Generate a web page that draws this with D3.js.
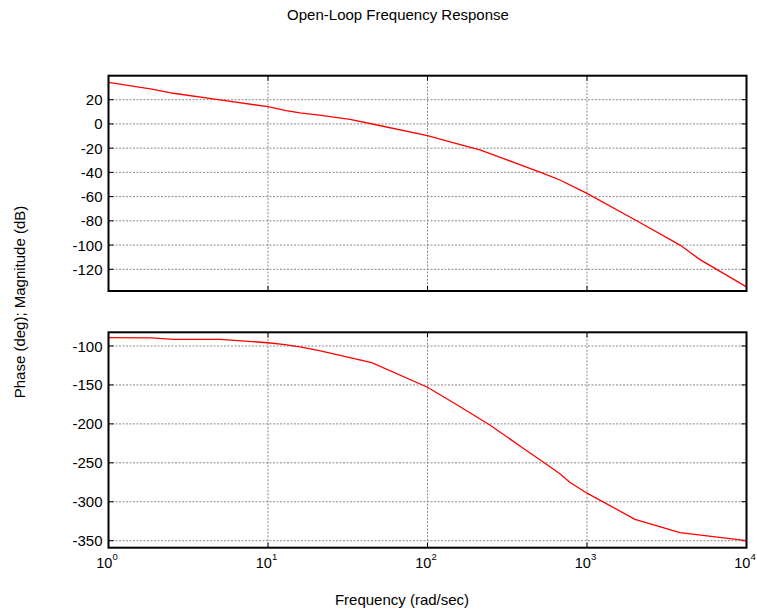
<!DOCTYPE html>
<html><head><meta charset="utf-8">
<script src="https://cdn.jsdelivr.net/npm/d3@7"></script>
<style>body{margin:0;background:#fff}svg{display:block}text{font-family:"Liberation Sans",Arial,sans-serif;fill:#000}</style>
</head><body><svg id="c" width="757" height="614"></svg>
<script>
const freqMag = [1, 1.87, 2.55, 5, 10, 13, 15.9, 21, 32.7, 50, 100, 150, 213, 300, 532, 676, 1000, 2048, 3830, 5110, 10000];
const magDb   = [34.3, 28.8, 25.3, 19.8, 14.2, 11, 9.2, 7.3, 3.8, -1.3, -9.7, -16, -21.5, -28.6, -40.8, -46.3, -57.3, -79.9, -100, -112, -134.5];
const freqPh  = [1, 1.87, 2.55, 5, 10, 12.4, 15.9, 21, 44.7, 100, 150, 246, 400, 545, 676, 780, 1000, 2000, 3830, 10000];
const phaseDeg= [-89.3, -89.5, -91.4, -91.4, -95.8, -97.8, -101, -105.8, -121.4, -153, -174.5, -201.5, -231.5, -250.6, -264, -275, -289, -322.5, -339.7, -350];
const magTicks = [20, 0, -20, -40, -60, -80, -100, -120];
const phaseTicks = [-100, -150, -200, -250, -300, -350];
const freqTicks = [1, 10, 100, 1000, 10000];
const titleText = "Open-Loop Frequency Response";
const xLabel = "Frequency (rad/sec)";
const yLabel = "Phase (deg); Magnitude (dB)";

const svg = d3.select("#c");
const L = 108.5, R = 746.5;
const x = d3.scaleLog().domain([1, 10000]).range([L, R]);
const FS = 15;

function panel(top, bottom, domain, ticks, fx, fy) {
  const y = d3.scaleLinear().domain(domain).range([bottom, top]);
  const g = svg.append("g");
  g.selectAll(".hg").data(ticks).enter().append("line")
    .attr("x1", L).attr("x2", R).attr("y1", d => y(d)).attr("y2", d => y(d))
    .attr("stroke", "#8a8a8a").attr("stroke-width", 1).attr("stroke-dasharray", "2,1.5");
  g.selectAll(".vg").data(freqTicks.slice(1, -1)).enter().append("line")
    .attr("y1", top).attr("y2", bottom).attr("x1", d => x(d)).attr("x2", d => x(d))
    .attr("stroke", "#8a8a8a").attr("stroke-width", 1).attr("stroke-dasharray", "2,1.5");
  const tl = 5;
  ticks.forEach(t => {
    g.append("line").attr("x1", L).attr("x2", L + tl).attr("y1", y(t)).attr("y2", y(t)).attr("stroke", "#000");
    g.append("line").attr("x1", R).attr("x2", R - tl).attr("y1", y(t)).attr("y2", y(t)).attr("stroke", "#000");
    g.append("text").attr("x", L - 6).attr("y", y(t) + 5.5).attr("text-anchor", "end")
      .attr("font-size", FS).text(t);
  });
  freqTicks.forEach(f => {
    g.append("line").attr("x1", x(f)).attr("x2", x(f)).attr("y1", top).attr("y2", top + tl).attr("stroke", "#000");
    g.append("line").attr("x1", x(f)).attr("x2", x(f)).attr("y1", bottom).attr("y2", bottom - tl).attr("stroke", "#000");
  });
  const line = d3.line().x((d, i) => x(fx[i])).y(d => y(d));
  g.append("path").datum(fy).attr("d", line).attr("fill", "none")
    .attr("stroke", "#ff0000").attr("stroke-width", 1.3);
  g.append("rect").attr("x", L).attr("y", top).attr("width", R - L).attr("height", bottom - top)
    .attr("fill", "none").attr("stroke", "#000").attr("stroke-width", 2);
  return y;
}

panel(75.7, 291, [-137.9, 39.8], magTicks, freqMag, magDb);
panel(332.3, 547.7, [-359, -82.4], phaseTicks, freqPh, phaseDeg);

freqTicks.forEach(f => {
  const t = svg.append("text").attr("x", x(f) - 1.5).attr("y", 568).attr("text-anchor", "middle").attr("font-size", 14.5);
  t.append("tspan").text("10");
  t.append("tspan").attr("dy", -8).attr("font-size", 9.5).text(Math.round(Math.log10(f)));
});

svg.append("text").attr("x", 398).attr("y", 19.5).attr("text-anchor", "middle").attr("font-size", FS).text(titleText);
svg.append("text").attr("x", 402).attr("y", 605).attr("text-anchor", "middle").attr("font-size", FS).text(xLabel);
svg.append("text").attr("transform", "translate(25,302) rotate(-90)").attr("text-anchor", "middle").attr("font-size", FS).text(yLabel);
</script></body></html>
